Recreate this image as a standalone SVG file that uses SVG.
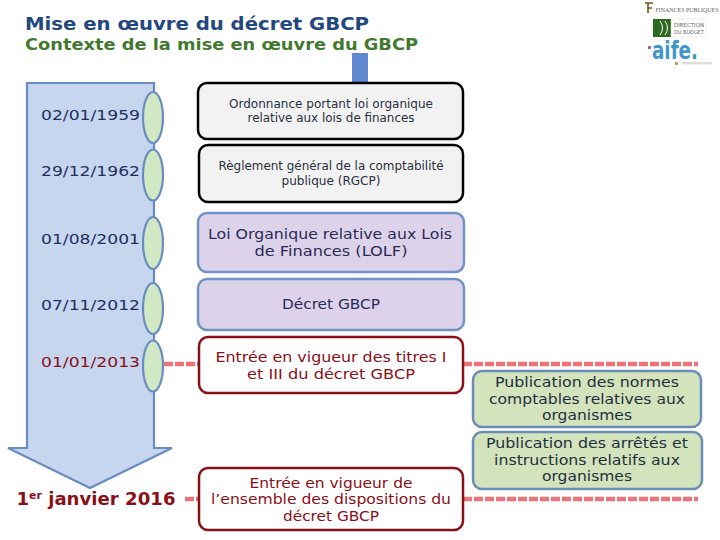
<svg xmlns="http://www.w3.org/2000/svg" width="720" height="540" viewBox="0 0 720 540">
<style>
text{font-family:"DejaVu Sans",Verdana,sans-serif;text-anchor:middle}
.t{text-anchor:start;font-weight:bold}
.d{font-size:14.500px;fill:#1f2f5f;text-anchor:start}
.r{fill:#8a1018}
.k{font-size:12px;fill:#2a3040}
.p{font-size:14px;fill:#2b2b55}
.g{font-size:14px;fill:#1f2f40}
.n{stroke-width:2.5;rx:9px}
.grey{fill:#f2f2f2;stroke:#000}
.lil{fill:#dcd3ea;stroke:#7092c4;stroke-width:2.5}
.red{fill:#fff;stroke:#8a1018}
.grn{fill:#d3e3bc;stroke:#6a8db8}
.e{fill:#d0e8c4;stroke:#6a8cc0;stroke-width:2.2}
.dash{stroke:#ee7378;stroke-width:4.500;stroke-dasharray:9 2;fill:none}
</style>
<rect width="720" height="540" fill="#fff"/>
<text class="t" x="25" y="29.500" font-size="18.500" fill="#23487f" textLength="344" lengthAdjust="spacingAndGlyphs">Mise en œuvre du décret GBCP</text>
<text class="t" x="25" y="49.500" font-size="16" fill="#3f7a2e" textLength="393" lengthAdjust="spacingAndGlyphs">Contexte de la mise en œuvre du GBCP</text>
<g id="logos">
<path d="M645 3h8M648 3v10M648 8h4" stroke="#6b5a20" stroke-width="1.600" fill="none"/>
<text x="687" y="12" font-size="5.500" fill="#666" style="font-family:'Liberation Serif',serif" textLength="63" lengthAdjust="spacingAndGlyphs">FINANCES PUBLIQUES</text>
<rect x="653" y="19" width="18" height="18" fill="#2f6a22"/>
<path d="M660 21q5 7 0 14M665 21q5 7 0 14" stroke="#fff" stroke-width="1" fill="none"/>
<rect x="671" y="19" width="35" height="18" fill="#fff" stroke="#ddd" stroke-width=".5"/>
<text x="689" y="27" font-size="5.500" fill="#666" textLength="30" lengthAdjust="spacingAndGlyphs">DIRECTION</text>
<text x="689" y="34" font-size="5.500" fill="#666" textLength="30" lengthAdjust="spacingAndGlyphs">DU BUDGET</text>
<text x="675" y="59" font-size="25" font-weight="bold" fill="#3f97c8" textLength="46" lengthAdjust="spacingAndGlyphs">aife.</text>
<rect x="648" y="46" width="3" height="3" fill="#8a6fb0"/>
<rect x="675" y="62" width="3" height="3" fill="#9db54a"/>
<rect x="682" y="62" width="30" height="2.500" fill="#ddd"/>
</g>
<g id="timeline-arrow">
<path d="M27 83H154V448H172L90 488L8 448H27Z" fill="#c6d6ef" stroke="#6a8cc0" stroke-width="2.200"/>
</g>
<g id="top-bar"><rect x="352" y="53" width="16" height="31" fill="#5f88cf"/></g>
<g id="connectors">
<path class="dash" d="M164 364H199M463 364H698M185 499H199M463 499H698"/>
</g>
<g id="d1"><ellipse class="e" cx="153" cy="117.500" rx="10" ry="25.500"/><text class="d" x="41" y="120" textLength="99" lengthAdjust="spacingAndGlyphs">02/01/1959</text></g>
<g id="d2"><ellipse class="e" cx="153" cy="175" rx="10" ry="25.500"/><text class="d" x="41" y="176" textLength="99" lengthAdjust="spacingAndGlyphs">29/12/1962</text></g>
<g id="d3"><ellipse class="e" cx="153" cy="243" rx="10" ry="26"/><text class="d" x="41" y="244" textLength="99" lengthAdjust="spacingAndGlyphs">01/08/2001</text></g>
<g id="d4"><ellipse class="e" cx="153" cy="308.500" rx="10" ry="25.500"/><text class="d" x="41" y="310" textLength="99" lengthAdjust="spacingAndGlyphs">07/11/2012</text></g>
<g id="d5"><ellipse class="e" cx="153" cy="366" rx="10" ry="25.500"/><text class="d r" x="41" y="367" textLength="99" lengthAdjust="spacingAndGlyphs" style="fill:#8a1018">01/01/2013</text></g>
<g id="d6"><text x="96" y="505" font-size="17.500" font-weight="bold" class="r" textLength="159" lengthAdjust="spacingAndGlyphs">1<tspan font-size="10.500" dy="-6">er</tspan><tspan dy="6"> janvier 2016</tspan></text></g>
<g id="b1"><rect class="n grey" x="198" y="83" width="265" height="56"/><text class="k" x="331" y="108" textLength="204" lengthAdjust="spacingAndGlyphs">Ordonnance portant loi organique</text><text class="k" x="331" y="122" textLength="167" lengthAdjust="spacingAndGlyphs">relative aux lois de finances</text></g>
<g id="b2"><rect class="n grey" x="199" y="145" width="264" height="57"/><text class="k" x="331" y="170" textLength="225" lengthAdjust="spacingAndGlyphs">Règlement général de la comptabilité</text><text class="k" x="331" y="185" textLength="99" lengthAdjust="spacingAndGlyphs">publique (RGCP)</text></g>
<g id="b3"><rect class="n lil" x="198" y="213" width="266" height="59"/><text class="p" x="330" y="239" textLength="244" lengthAdjust="spacingAndGlyphs">Loi Organique relative aux Lois</text><text class="p" x="331" y="256" textLength="153" lengthAdjust="spacingAndGlyphs">de Finances (LOLF)</text></g>
<g id="b4"><rect class="n lil" x="198" y="279" width="266" height="51"/><text class="p" x="331" y="309" textLength="98" lengthAdjust="spacingAndGlyphs">Décret GBCP</text></g>
<g id="b5"><rect class="n red" x="199" y="337" width="264" height="56"/><text class="p r" x="331" y="362" textLength="231" lengthAdjust="spacingAndGlyphs" style="fill:#8a1018">Entrée en vigueur des titres I</text><text class="p r" x="331" y="379" textLength="168" lengthAdjust="spacingAndGlyphs" style="fill:#8a1018">et III du décret GBCP</text></g>
<g id="b6"><rect class="n red" x="199" y="468" width="264" height="62"/><text class="p r" x="331" y="488" textLength="163" lengthAdjust="spacingAndGlyphs" style="fill:#8a1018">Entrée en vigueur de</text><text class="p r" x="331" y="504" textLength="240" lengthAdjust="spacingAndGlyphs" style="fill:#8a1018">l’ensemble des dispositions du</text><text class="p r" x="331" y="521" textLength="96" lengthAdjust="spacingAndGlyphs" style="fill:#8a1018">décret GBCP</text></g>
<g id="g1"><rect class="n grn" x="473" y="371" width="228" height="56"/><text class="g" x="587" y="387" textLength="184" lengthAdjust="spacingAndGlyphs">Publication des normes</text><text class="g" x="587" y="404" textLength="196" lengthAdjust="spacingAndGlyphs">comptables relatives aux</text><text class="g" x="587" y="420" textLength="90" lengthAdjust="spacingAndGlyphs">organismes</text></g>
<g id="g2"><rect class="n grn" x="473" y="432" width="229" height="57"/><text class="g" x="587" y="448" textLength="202" lengthAdjust="spacingAndGlyphs">Publication des arrêtés et</text><text class="g" x="587" y="465" textLength="186" lengthAdjust="spacingAndGlyphs">instructions relatifs aux</text><text class="g" x="587" y="481" textLength="90" lengthAdjust="spacingAndGlyphs">organismes</text></g>
</svg>
